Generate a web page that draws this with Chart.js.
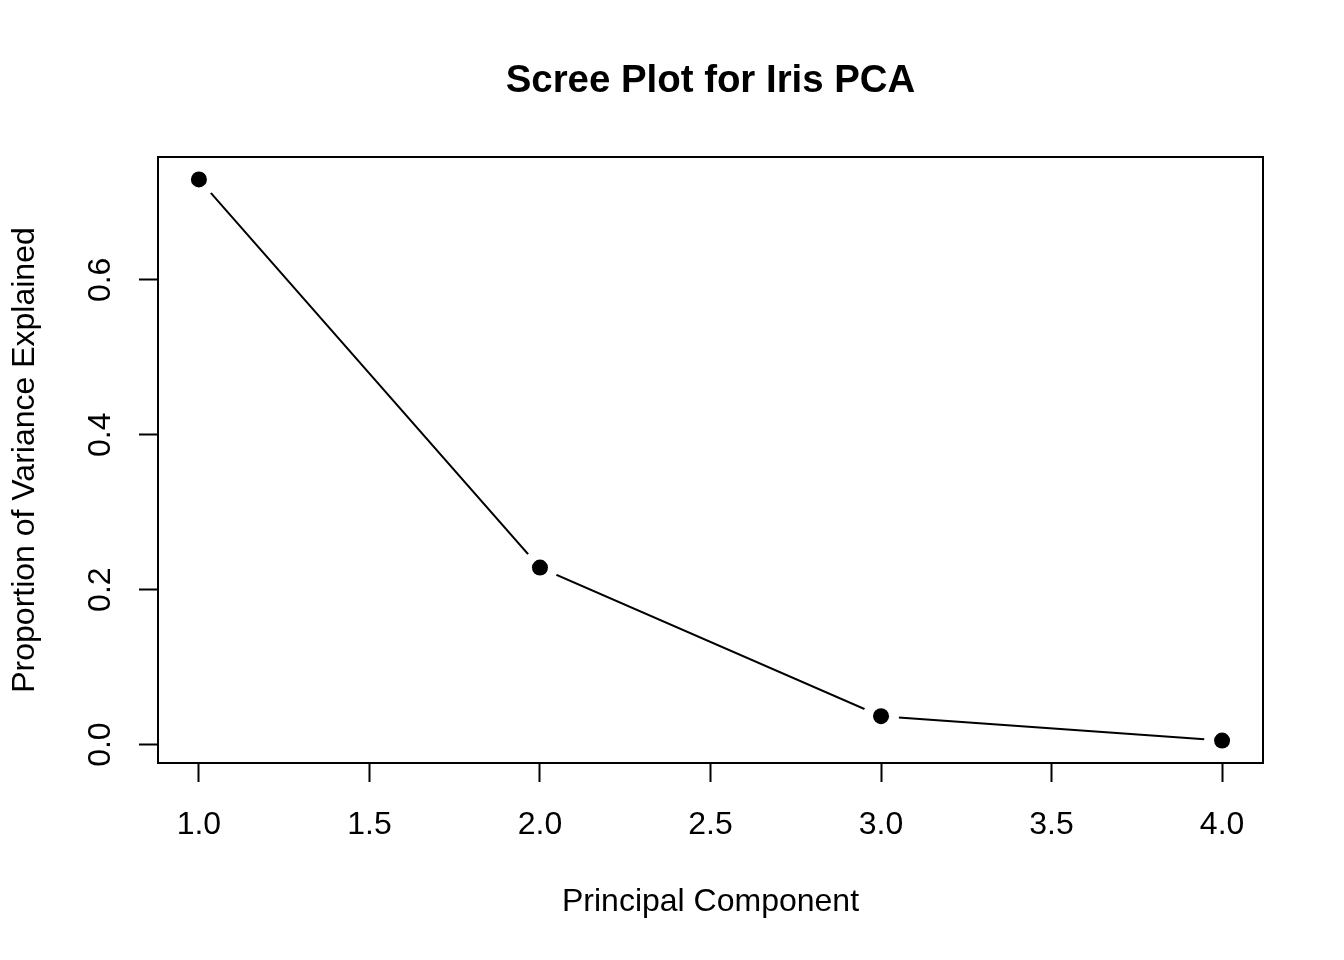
<!DOCTYPE html>
<html>
<head>
<meta charset="utf-8">
<script src="https://cdn.jsdelivr.net/npm/chart.js@4"></script>
<style>
  body { margin: 0; background: #fff; }
  canvas { display: block; }
</style>
</head>
<body>
<canvas id="chart1" width="1344" height="960"></canvas>
<script>
const components = [1, 2, 3, 4];
const varianceExplained = [0.7296, 0.2285, 0.0367, 0.0052];
const xTicks = [1.0, 1.5, 2.0, 2.5, 3.0, 3.5, 4.0];
const yTicks = [0.0, 0.2, 0.4, 0.6];

const titleText = "Scree Plot for Iris PCA";
const xLabel = "Principal Component";
const yLabel = "Proportion of Variance Explained";

// R style axis range: extend data range by 4% on each side
const pad = (arr) => {
    const lo = Math.min(...arr);
    const hi = Math.max(...arr);
    const d = (hi - lo) * 0.04;
    return [lo - d, hi + d];
};
const [xMin, xMax] = pad(components);
const [yMin, yMax] = pad(varianceExplained);

const points = components.map((x, i) => ({ x, y: varianceExplained[i] }));

Chart.defaults.font.family = "'Liberation Sans', Arial, Helvetica, sans-serif";
Chart.defaults.font.size = 32;
Chart.defaults.color = "#000";

const fixedTicks = (values) => (scale) => {
    scale.ticks = values.map((value) => ({ value }));
};

const boxAndTitle = {
    id: "boxAndTitle",
    afterDraw(chart) {
        const { ctx, chartArea: a } = chart;
        ctx.save();
        ctx.strokeStyle = "#000";
        ctx.lineWidth = 2;
        ctx.strokeRect(a.left, a.top, a.right - a.left, a.bottom - a.top);
        ctx.fillStyle = "#000";
        ctx.font = "bold 38.4px 'Liberation Sans', Arial, sans-serif";
        ctx.textAlign = "center";
        ctx.textBaseline = "middle";
        ctx.fillText(titleText, (a.left + a.right) / 2, 81);
        ctx.restore();
    },
};

const axisGrid = {
    drawOnChartArea: false,
    drawTicks: true,
    tickLength: 19,
    tickWidth: 2,
    tickColor: "#000",
};

new Chart(document.getElementById("chart1"), {
    type: "scatter",
    data: {
        datasets: [
            {
                // filled markers
                data: points,
                showLine: false,
                pointRadius: 8,
                pointBackgroundColor: "#000",
                pointBorderWidth: 0,
            },
            {
                // connecting line with gaps round the points (type = "b")
                data: points,
                showLine: true,
                borderColor: "#000",
                borderWidth: 2,
                tension: 0,
                pointRadius: 18,
                pointBackgroundColor: "#fff",
                pointBorderWidth: 0,
            },
        ],
    },
    options: {
        responsive: false,
        devicePixelRatio: 1,
        animation: false,
        events: [],
        layout: { padding: { top: 157, right: 81, bottom: 0, left: 0 } },
        plugins: {
            legend: { display: false },
            tooltip: { enabled: false },
        },
        scales: {
            x: {
                type: "linear",
                min: xMin,
                max: xMax,
                afterBuildTicks: fixedTicks(xTicks),
                afterFit: (scale) => { scale.height = 197; },
                grid: axisGrid,
                border: { display: true, color: "#000", width: 2 },
                ticks: {
                    padding: 24,
                    maxRotation: 0,
                    autoSkip: false,
                    callback: (v) => v.toFixed(1),
                },
                title: {
                    display: true,
                    text: xLabel,
                    padding: { top: 0, bottom: 39 },
                },
            },
            y: {
                type: "linear",
                min: yMin,
                max: yMax,
                afterBuildTicks: fixedTicks(yTicks),
                afterFit: (scale) => { scale.width = 158; },
                grid: axisGrid,
                border: { display: true, color: "#000", width: 2 },
                ticks: {
                    padding: 16,
                    minRotation: 90,
                    maxRotation: 90,
                    crossAlign: "center",
                    autoSkip: false,
                    callback: (v) => v.toFixed(1),
                },
                title: {
                    display: true,
                    text: yLabel,
                    padding: { top: 6, bottom: 0 },
                },
            },
        },
    },
    plugins: [boxAndTitle],
});
</script>
</body>
</html>
